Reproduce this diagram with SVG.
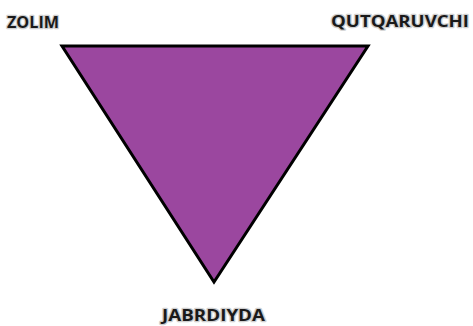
<svg xmlns="http://www.w3.org/2000/svg" width="473" height="326" viewBox="0 0 473 326">
<style>
.lbl{font-family:"Open Sans","Liberation Sans",sans-serif;font-weight:bold;font-size:16px;fill:#1a1a1a;stroke:#d0d0d0;stroke-width:2.5px;paint-order:stroke;stroke-linejoin:round}
.tri{fill:#9b479f;stroke:#000;stroke-width:3;stroke-linejoin:miter}
</style>
<rect width="473" height="326" fill="#fff"/>
<g id="triangle">
<polygon class="tri" points="62,46 368,46 214,282"/>
</g>
<g id="zolim">
<text class="lbl" x="7" y="28" textLength="52" lengthAdjust="spacingAndGlyphs">ZOLIM</text>
</g>
<g id="qutqaruvchi">
<text class="lbl" x="331" y="27" textLength="138" lengthAdjust="spacingAndGlyphs">QUTQARUVCHI</text>
</g>
<g id="jabrdiyda">
<text class="lbl" x="162" y="321" textLength="103" lengthAdjust="spacingAndGlyphs">JABRDIYDA</text>
</g>
<g id="connectors"></g>
</svg>
